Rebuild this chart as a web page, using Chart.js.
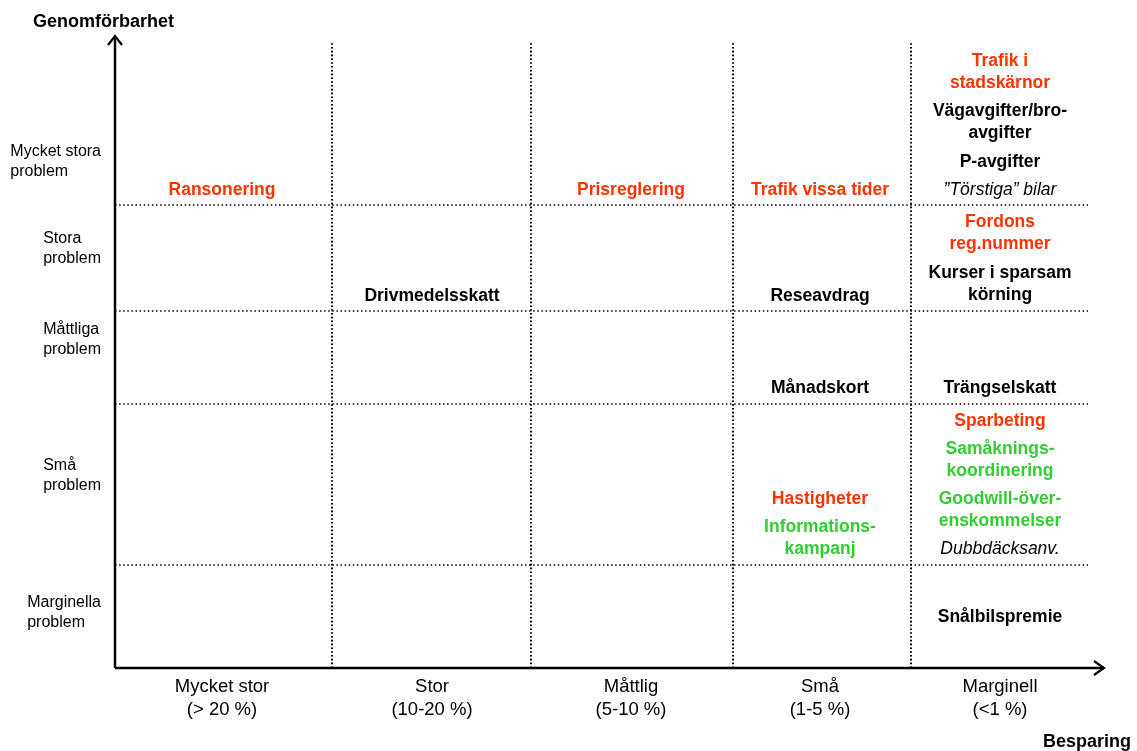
<!DOCTYPE html>
<html>
<head>
<meta charset="utf-8">
<script src="https://cdn.jsdelivr.net/npm/chart.js@4/dist/chart.umd.min.js"></script>
<style>
  html, body { margin: 0; padding: 0; background: #fff; }
  #wrap { width: 1137px; height: 751px; }
</style>
</head>
<body>
<div id="wrap"><canvas id="matrix"></canvas></div>
<script>
// axes titles
var yTitle = 'Genomförbarhet';
var xTitle = 'Besparing';

// column (besparing) categories and row (genomförbarhet) categories
var colLabels = [['Mycket stor', '(> 20 %)'], ['Stor', '(10-20 %)'], ['Måttlig', '(5-10 %)'], ['Små', '(1-5 %)'], ['Marginell', '(<1 %)']];
var colCenters = [107, 317, 516, 705, 885];
var colEdges = [217, 416, 618, 796];
var rowLabels = [['Mycket stora', 'problem'], ['Stora', 'problem'], ['Måttliga', 'problem'], ['Små', 'problem'], ['Marginella', 'problem']];
var rowCenters = [506, 419, 328, 192, 55];
var rowEdges = [463, 357, 264, 103];

// measures: column index, level, lines, type (r = red, g = green, b = black, i = italic)
var itemCol   = [4, 4, 4, 4, 4, 4, 4, 4, 4, 4, 4, 4, 3, 3, 3, 3, 3, 0, 1, 2];
var itemLevel = [607, 557, 506, 478, 446, 395, 280, 247, 219, 169, 119, 51, 478, 372, 280, 169, 141, 478, 372, 478];
var itemText  = [
  ['Trafik i', 'stadskärnor'], ['Vägavgifter/bro-', 'avgifter'], ['P-avgifter'], ['”Törstiga” bilar'],
  ['Fordons', 'reg.nummer'], ['Kurser i sparsam', 'körning'], ['Trängselskatt'], ['Sparbeting'],
  ['Samåknings-', 'koordinering'], ['Goodwill-över-', 'enskommelser'], ['Dubbdäcksanv.'], ['Snålbilspremie'],
  ['Trafik vissa tider'], ['Reseavdrag'], ['Månadskort'], ['Hastigheter'], ['Informations-', 'kampanj'],
  ['Ransonering'], ['Drivmedelsskatt'], ['Prisreglering']
];
var itemType  = ['r', 'b', 'b', 'i', 'r', 'b', 'b', 'r', 'g', 'g', 'i', 'b', 'r', 'b', 'b', 'r', 'g', 'r', 'b', 'r'];

var X_MAX = 990, Y_MAX = 633, GRID_END = 973, GRID_TOP = 626;
var typeColor = { r: '#ff3300', g: '#33cc33', b: '#000000', i: '#000000' };

var datasets = [];
colEdges.forEach(function (x) {
  datasets.push({ data: [{ x: x, y: 0 }, { x: x, y: GRID_TOP }], borderColor: '#000', borderWidth: 2, borderDash: [1.6, 2.2], pointRadius: 0 });
});
rowEdges.forEach(function (y) {
  datasets.push({ data: [{ x: 0, y: y }, { x: GRID_END, y: y }], borderColor: '#000', borderWidth: 1.4, borderDash: [1.5, 2.6], pointRadius: 0 });
});

var textPlugin = {
  id: 'matrixText',
  afterDatasetsDraw: function (chart) {
    var c = chart.ctx, xs = chart.scales.x, ys = chart.scales.y;
    var x0 = xs.getPixelForValue(0), y0 = ys.getPixelForValue(0);
    var xEnd = xs.getPixelForValue(X_MAX), yEnd = ys.getPixelForValue(Y_MAX);
    c.save();
    // axes with arrows
    c.strokeStyle = '#000';
    c.lineWidth = 2.5;
    c.beginPath();
    c.moveTo(x0, y0); c.lineTo(x0, yEnd + 1);
    c.moveTo(x0, y0); c.lineTo(xEnd - 1, y0);
    c.stroke();
    c.lineWidth = 2.2;
    c.beginPath();
    c.moveTo(x0 - 7, yEnd + 10); c.lineTo(x0, yEnd + 1); c.lineTo(x0 + 7, yEnd + 10);
    c.moveTo(xEnd - 11, y0 - 7); c.lineTo(xEnd - 1, y0); c.lineTo(xEnd - 11, y0 + 7);
    c.stroke();

    c.textBaseline = 'middle';
    // axis titles
    c.fillStyle = '#000';
    c.font = 'bold 18px "Liberation Sans", Arial, sans-serif';
    c.textAlign = 'left';
    c.fillText(yTitle, 33, 22);
    c.fillText(xTitle, 1043, 742);

    // row labels
    c.font = '16px "Liberation Sans", Arial, sans-serif';
    rowLabels.forEach(function (lines, i) {
      var w = Math.max.apply(null, lines.map(function (l) { return c.measureText(l).width; }));
      var cy = ys.getPixelForValue(rowCenters[i]);
      lines.forEach(function (l, k) {
        c.fillText(l, 101 - w, cy + (k - (lines.length - 1) / 2) * 20);
      });
    });

    // column labels
    c.textAlign = 'center';
    c.font = '18.5px "Liberation Sans", Arial, sans-serif';
    colLabels.forEach(function (lines, i) {
      var cx = xs.getPixelForValue(colCenters[i]);
      lines.forEach(function (l, k) {
        c.fillText(l, cx, y0 + 19 + k * 23);
      });
    });

    // measures in the cells
    itemText.forEach(function (lines, i) {
      var t = itemType[i];
      c.fillStyle = typeColor[t];
      c.font = (t === 'i' ? 'italic ' : 'bold ') + '17.5px "Liberation Sans", Arial, sans-serif';
      var cx = xs.getPixelForValue(colCenters[itemCol[i]]);
      var cy = ys.getPixelForValue(itemLevel[i]);
      lines.forEach(function (l, k) {
        c.fillText(l, cx, cy + k * 22.5);
      });
    });
    c.restore();
  }
};

new Chart(document.getElementById('matrix'), {
  type: 'line',
  data: { datasets: datasets },
  options: {
    responsive: true,
    maintainAspectRatio: false,
    animation: false,
    layout: { padding: { left: 115, right: 32, top: 35, bottom: 83 } },
    plugins: { legend: { display: false }, tooltip: { enabled: false } },
    scales: {
      x: { type: 'linear', min: 0, max: X_MAX, display: false },
      y: { type: 'linear', min: 0, max: Y_MAX, display: false }
    }
  },
  plugins: [textPlugin]
});
</script>
</body>
</html>
